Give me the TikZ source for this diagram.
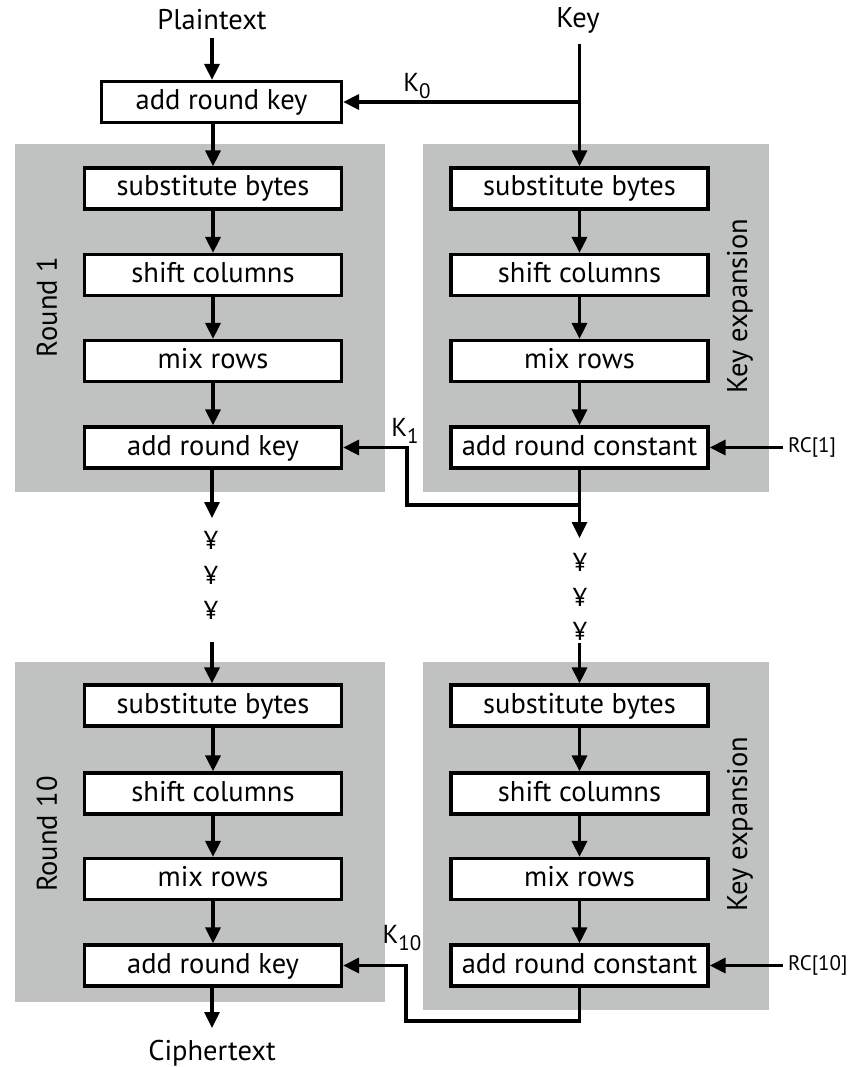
\documentclass[tikz,border=0pt]{standalone}
\usepackage{fontspec}
\setmainfont{PT Sans}
\usetikzlibrary{arrows.meta}
\definecolor{panelgray}{RGB}{192,194,193}
\newcommand{\ksub}[1]{K\raisebox{-7pt}{\fontsize{21}{21}\selectfont #1}}
\begin{document}
\begin{tikzpicture}[x=1pt,y=-1pt,
  panel/.style={fill=panelgray,draw=none},
  stage/.style={draw=black,line width=3.2pt,fill=white,minimum width=257pt,minimum height=41pt,inner sep=0pt,
    font=\fontsize{28.5}{31}\selectfont,text height=20pt,text depth=5pt},
  conn/.style={line width=3.2pt,line join=miter,-{Triangle[width=15pt,length=16pt]}},
  txt/.style={font=\fontsize{28.5}{31}\selectfont,inner sep=0pt},
  small/.style={font=\fontsize{21}{24}\selectfont,inner sep=0pt},
  side/.style={font=\fontsize{28.5}{31}\selectfont,inner sep=0pt,rotate=90},
  dots/.style={font=\fontsize{26}{28}\selectfont,inner sep=0pt}
]
\useasboundingbox (0,0) rectangle (854,1067);
% panels
\fill[panelgray] (15,144) rectangle (385,492);
\fill[panelgray] (423,144) rectangle (769,492);
\fill[panelgray] (15,662) rectangle (385,1002);
\fill[panelgray] (423,662) rectangle (769,1010);
% side labels
\node[side] (r1lab) at (47,307) {Round 1};
\node[side] (ke1lab) at (740,306) {Key expansion};
\node[side] (r10lab) at (47,834) {Round 10};
\node[side] (ke10lab) at (740,824) {Key expansion};
% top texts
\node[txt] (plain) at (212,20) {Plaintext};
\node[txt] (key) at (578,20) {Key};
\coordinate (ptail) at (212,38);
\coordinate (ktail) at (579.5,44);
% boxes
\node[stage,minimum width=240pt] (ark0) at (221.5,102) {add round key};
\node[stage] (sb1) at (213,188.5) {substitute bytes};
\node[stage] (sc1) at (213,275) {shift columns};
\node[stage] (mr1) at (213,361) {mix rows};
\node[stage] (ark1) at (213,447.5) {add round key};
\node[stage] (ksb1) at (579.5,188.5) {substitute bytes};
\node[stage] (ksc1) at (579.5,275) {shift columns};
\node[stage] (kmr1) at (579.5,361) {mix rows};
\node[stage] (arc1) at (579.5,447.5) {add round constant};
\node[stage] (sb10) at (213,705.5) {substitute bytes};
\node[stage] (sc10) at (213,793.5) {shift columns};
\node[stage] (mr10) at (213,879) {mix rows};
\node[stage] (ark10) at (213,965.5) {add round key};
\node[stage] (ksb10) at (579.5,705.5) {substitute bytes};
\node[stage] (ksc10) at (579.5,793.5) {shift columns};
\node[stage] (kmr10) at (579.5,879) {mix rows};
\node[stage] (arc10) at (579.5,965.5) {add round constant};
% key labels
\node[txt,font=\fontsize{26}{28}\selectfont] (k0) at (417,86) {\ksub{0}};
\node[txt,font=\fontsize{26}{28}\selectfont] (k1) at (405,431) {\ksub{1}};
\node[txt,font=\fontsize{26}{28}\selectfont] (k10) at (402,938) {\ksub{10}};
\node[small,anchor=west] (rc1) at (788,447.5) {RC[1]};
\node[small,anchor=west] (rc10) at (788,965.5) {RC[10]};
% ellipsis marks
\node[dots] (ld1) at (211,540) {¥};
\node[dots] (ld2) at (211,575) {¥};
\node[dots] (ld3) at (211,610) {¥};
\node[dots] (rd1) at (580,562) {¥};
\node[dots] (rd2) at (580,597) {¥};
\node[dots] (rd3) at (580,631) {¥};
% connectors top
\draw[conn] (ptail) -- (ptail |- ark0.north);
\draw[conn] (ktail) -- (ksb1.north);
\draw[conn] (ktail |- ark0.east) -- (ark0.east);
\draw[conn] (ark0.south -| sb1.north) -- (sb1.north);
\draw[conn] (sb1) -- (sc1);
\draw[conn] (sc1) -- (mr1);
\draw[conn] (mr1) -- (ark1);
\draw[conn] (ksb1) -- (ksc1);
\draw[conn] (ksc1) -- (kmr1);
\draw[conn] (kmr1) -- (arc1);
\coordinate (rc1tail) at (783,447.5);
\draw[conn] (rc1tail) -- (arc1.east);
\coordinate (j1) at (579.5,505);
\coordinate (k1a) at (407,505);
\coordinate (r1end) at (579.5,538);
\coordinate (l1end) at (212,518);
\draw[line width=3.2pt] (arc1.south) -- (j1);
\draw[conn] (j1) -- (r1end);
\draw[conn] (j1) -- (k1a) -- (k1a |- ark1.east) -- (ark1.east);
\draw[conn] (ark1.south -| l1end) -- (l1end);
% connectors bottom
\coordinate (l10tail) at (212,642);
\coordinate (r10tail) at (579.5,643);
\draw[conn] (l10tail) -- (l10tail |- sb10.north);
\draw[conn] (r10tail) -- (ksb10.north);
\draw[conn] (sb10) -- (sc10);
\draw[conn] (sc10) -- (mr10);
\draw[conn] (mr10) -- (ark10);
\draw[conn] (ksb10) -- (ksc10);
\draw[conn] (ksc10) -- (kmr10);
\draw[conn] (kmr10) -- (arc10);
\coordinate (rc10tail) at (783,965.5);
\draw[conn] (rc10tail) -- (arc10.east);
\coordinate (j10) at (579.5,1021);
\coordinate (k10a) at (406,1021);
\draw[conn] (arc10.south) -- (j10) -- (k10a) -- (k10a |- ark10.east) -- (ark10.east);
\node[txt] (cipher) at (212,1053) {Ciphertext};
\coordinate (cend) at (212,1028);
\draw[conn] (ark10.south -| cend) -- (cend);
\end{tikzpicture}
\end{document}
